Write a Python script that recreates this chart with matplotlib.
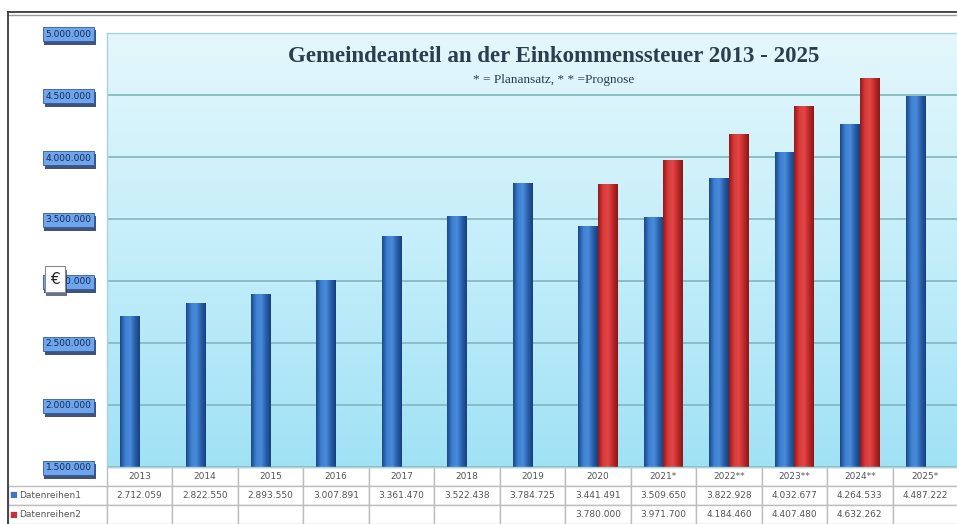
import numpy as np
import matplotlib
matplotlib.use("Agg")
from matplotlib import pyplot as plt
from matplotlib.colors import LinearSegmentedColormap
from matplotlib.table import Table
from matplotlib import patheffects as pe

# data
categories = ["2013", "2014", "2015", "2016", "2017", "2018", "2019", "2020",
	"2021*", "2022**", "2023**", "2024**", "2025*"]
reihe1 = [2712059, 2822550, 2893550, 3007891, 3361470, 3522438, 3784725,
	3441491, 3509650, 3822928, 4032677, 4264533, 4487222]
reihe2 = [None, None, None, None, None, None, None,
	3780000, 3971700, 4184460, 4407480, 4632262, None]
series_names = ["Datenreihen1", "Datenreihen2"]
yticks = [1500000, 2000000, 2500000, 3000000, 3500000, 4000000, 4500000, 5000000]

W, H = 957, 524


def fmt(v):
	return "{:,}".format(v).replace(",", ".")


def main():
	fig = plt.figure(figsize=(W / 100, H / 100), dpi=100)
	fig.patch.set_facecolor("white")

	# outer frame
	fig.add_artist(plt.Line2D([8 / W, 1], [1 - 12 / H] * 2, color="#3a3a3a", lw=1.3))
	fig.add_artist(plt.Line2D([8 / W, 1], [1 - 15 / H] * 2, color="#9a9a9a", lw=1.0))
	fig.add_artist(plt.Line2D([8 / W] * 2, [0, 1 - 12 / H], color="#3a3a3a", lw=1.3))

	left, right, top, bottom = 107, 958, 33, 467
	pw = right - left
	ph = bottom - top
	ax = fig.add_axes([left / W, 1 - bottom / H, pw / W, ph / H])

	# background gradient
	bg = LinearSegmentedColormap.from_list("bg", ["#a0e2f5", "#c4eefa", "#e4f7fc"])
	ax.imshow(np.linspace(0, 1, 256).reshape(-1, 1)[::-1], cmap=bg, aspect="auto",
		extent=[0, 1, 0, 1], transform=ax.transAxes, zorder=0)

	ymin, ymax = yticks[0], yticks[-1]
	x = np.arange(len(categories))
	w = 0.3
	v2 = [np.nan if v is None else v for v in reihe2]
	bars1 = ax.bar(x - w / 2, reihe1, w, color="#3371c2", zorder=2, linewidth=0)
	bars2 = ax.bar(x + w / 2, v2, w, color="#cf3030", zorder=2, linewidth=0)

	# cylinder-like shading on each bar
	blue_cm = LinearSegmentedColormap.from_list("b", ["#1b4889", "#3d7fd2", "#4a8bda", "#2a60ac", "#183f7c"])
	red_cm = LinearSegmentedColormap.from_list("r", ["#941919", "#d93939", "#e14646", "#be2929", "#8a1717"])
	grad = np.linspace(0, 1, 64).reshape(1, -1)
	for bars, cm in ((bars1, blue_cm), (bars2, red_cm)):
		for b in bars:
			h = b.get_height()
			if not np.isfinite(h):
				continue
			x0 = b.get_x()
			ax.imshow(grad, cmap=cm, aspect="auto", zorder=2.5,
				extent=[x0, x0 + b.get_width(), max(b.get_y(), ymin), b.get_y() + h])

	ax.set_xlim(-0.5, len(categories) - 0.5)
	ax.set_ylim(ymin, ymax)
	ax.set_xticks([])
	ax.set_yticks(yticks)
	ax.set_yticklabels([fmt(v) for v in yticks])
	ax.yaxis.grid(True, color="#88b9c1", lw=1.3)
	ax.set_axisbelow(True)
	ax.tick_params(axis="y", length=0, pad=11, labelsize=6.5, labelcolor="#152a50")
	for lab in ax.get_yticklabels():
		lab.set_bbox(dict(boxstyle="square,pad=0.3", fc="#6ea5ec", ec="#2f5a98", lw=0.6))
		lab.get_bbox_patch().set_path_effects([
			pe.SimplePatchShadow(offset=(1, -2.5), shadow_rgbFace="#1f3560", alpha=0.85),
			pe.Normal()])
	for s in ax.spines.values():
		s.set_color("#a9d3d8")
		s.set_linewidth(1.0)

	# euro sign box
	eur = fig.text(55 / W, 1 - 279 / H, "€", ha="center", va="center", fontsize=11, color="#222",
		bbox=dict(boxstyle="square,pad=0.35", fc="white", ec="#8a8a8a", lw=0.8), zorder=5)
	eur.get_bbox_patch().set_path_effects([
		pe.SimplePatchShadow(offset=(1, -3), shadow_rgbFace="#1f3560", alpha=0.7), pe.Normal()])

	# title
	fig.text(554 / W, 1 - 57 / H, "Gemeindeanteil an der Einkommenssteuer 2013 - 2025",
		ha="center", va="center", family="Liberation Serif", fontsize=16.5,
		fontweight="bold", color="#2b3d4f")
	fig.text(554 / W, 1 - 80 / H, "* = Planansatz, * * =Prognose",
		ha="center", va="center", family="Liberation Serif", fontsize=9.5, color="#2b3d4f")

	# data table under the axes (units chosen so that the bbox scale stays ~1)
	th = (H - bottom) / ph
	tb = Table(ax, bbox=[0, -th, 1, th])
	tb.auto_set_font_size(False)
	edge = "#bdbdbd"
	cw = 1.0 / len(categories)
	rh = th / 3
	for j, c in enumerate(categories):
		tb.add_cell(0, j, width=cw, height=rh, text=c, loc="center", edgecolor=edge)
	rows = [[fmt(v) for v in reihe1], ["" if v is None else fmt(v) for v in reihe2]]
	for i, r in enumerate(rows):
		cell = tb.add_cell(i + 1, -1, width=(left - 8) / pw, height=rh,
			text=series_names[i], loc="left", edgecolor=edge)
		cell.PAD = 0.11
		for j, t in enumerate(r):
			tb.add_cell(i + 1, j, width=cw, height=rh, text=t, loc="center", edgecolor=edge)
	tb.set_fontsize(6.5)
	for cell in tb.get_celld().values():
		cell.get_text().set_color("#555555")
	ax.add_table(tb)

	for i, col in enumerate(["#3a78c0", "#c03434"]):
		fig.text(13 / W, 1 - (495 + 19 * i) / H, "■", color=col, fontsize=6,
			ha="center", va="center")

	fig.savefig("out.png", dpi=100)
	plt.close(fig)


main()
